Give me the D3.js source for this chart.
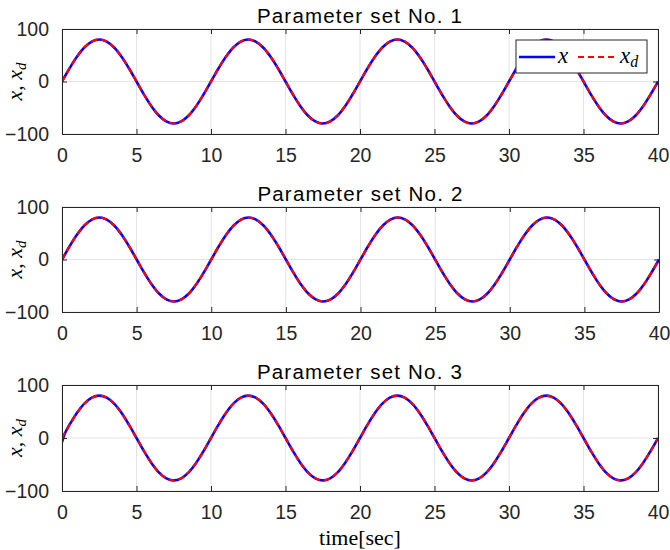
<!DOCTYPE html>
<html>
<head>
<meta charset="utf-8">
<script src="https://cdn.jsdelivr.net/npm/d3@7"></script>
<style>
  html, body { margin: 0; padding: 0; background: #fff; }
  svg { display: block; }
</style>
</head>
<body>
<svg id="chart" width="670" height="550"></svg>
<script>
// ---------------- DATA ----------------
const titles = ["Parameter set No. 1", "Parameter set No. 2", "Parameter set No. 3"];
const xTicks = [0, 5, 10, 15, 20, 25, 30, 35, 40];
const yTicks = [-100, 0, 100];

const timeSec = [0, 0.2, 0.5, 1, 1.5, 2, 2.5, 3, 3.5, 4, 4.5, 5, 5.5, 6, 6.5, 7, 7.5, 8, 8.5, 9, 9.5,
  10, 10.5, 11, 11.5, 12, 12.5, 13, 13.5, 14, 14.5, 15, 15.5, 16, 16.5, 17, 17.5, 18, 18.5, 19, 19.5,
  20, 20.5, 21, 21.5, 22, 22.5, 23, 23.5, 24, 24.5, 25, 25.5, 26, 26.5, 27, 27.5, 28, 28.5, 29, 29.5,
  30, 30.5, 31, 31.5, 32, 32.5, 33, 33.5, 34, 34.5, 35, 35.5, 36, 36.5, 37, 37.5, 38, 38.5, 39, 39.5, 40];

const xDesired = [0, 10.0, 24.7, 47.0, 64.7, 76.1, 80, 76.1, 64.7, 47.0, 24.7, 0, -24.7, -47.0, -64.7, -76.1, -80, -76.1, -64.7, -47.0, -24.7,
  0, 24.7, 47.0, 64.7, 76.1, 80, 76.1, 64.7, 47.0, 24.7, 0, -24.7, -47.0, -64.7, -76.1, -80, -76.1, -64.7, -47.0, -24.7,
  0, 24.7, 47.0, 64.7, 76.1, 80, 76.1, 64.7, 47.0, 24.7, 0, -24.7, -47.0, -64.7, -76.1, -80, -76.1, -64.7, -47.0, -24.7,
  0, 24.7, 47.0, 64.7, 76.1, 80, 76.1, 64.7, 47.0, 24.7, 0, -24.7, -47.0, -64.7, -76.1, -80, -76.1, -64.7, -47.0, -24.7, 0];

const xActual1 = [0, 10.0, 24.7, 47.0, 64.7, 76.1, 80, 76.1, 64.7, 47.0, 24.7, 0, -24.7, -47.0, -64.7, -76.1, -80, -76.1, -64.7, -47.0, -24.7,
  0, 24.7, 47.0, 64.7, 76.1, 80, 76.1, 64.7, 47.0, 24.7, 0, -24.7, -47.0, -64.7, -76.1, -80, -76.1, -64.7, -47.0, -24.7,
  0, 24.7, 47.0, 64.7, 76.1, 80, 76.1, 64.7, 47.0, 24.7, 0, -24.7, -47.0, -64.7, -76.1, -80, -76.1, -64.7, -47.0, -24.7,
  0, 24.7, 47.0, 64.7, 76.1, 80, 76.1, 64.7, 47.0, 24.7, 0, -24.7, -47.0, -64.7, -76.1, -80, -76.1, -64.7, -47.0, -24.7, 0];

const xActual2 = [-1, 9.8, 24.7, 47.0, 64.7, 76.1, 80, 76.1, 64.7, 47.0, 24.7, 0, -24.7, -47.0, -64.7, -76.1, -80, -76.1, -64.7, -47.0, -24.7,
  0, 24.7, 47.0, 64.7, 76.1, 80, 76.1, 64.7, 47.0, 24.7, 0, -24.7, -47.0, -64.7, -76.1, -80, -76.1, -64.7, -47.0, -24.7,
  0, 24.7, 47.0, 64.7, 76.1, 80, 76.1, 64.7, 47.0, 24.7, 0, -24.7, -47.0, -64.7, -76.1, -80, -76.1, -64.7, -47.0, -24.7,
  0, 24.7, 47.0, 64.7, 76.1, 80, 76.1, 64.7, 47.0, 24.7, 0, -24.7, -47.0, -64.7, -76.1, -80, -76.1, -64.7, -47.0, -24.7, 0];

const xActual3 = [-8, 9.0, 24.7, 47.0, 64.7, 76.1, 80, 76.1, 64.7, 47.0, 24.7, 0, -24.7, -47.0, -64.7, -76.1, -80, -76.1, -64.7, -47.0, -24.7,
  0, 24.7, 47.0, 64.7, 76.1, 80, 76.1, 64.7, 47.0, 24.7, 0, -24.7, -47.0, -64.7, -76.1, -80, -76.1, -64.7, -47.0, -24.7,
  0, 24.7, 47.0, 64.7, 76.1, 80, 76.1, 64.7, 47.0, 24.7, 0, -24.7, -47.0, -64.7, -76.1, -80, -76.1, -64.7, -47.0, -24.7,
  0, 24.7, 47.0, 64.7, 76.1, 80, 76.1, 64.7, 47.0, 24.7, 0, -24.7, -47.0, -64.7, -76.1, -80, -76.1, -64.7, -47.0, -24.7, 0];

const actualSeries = [xActual1, xActual2, xActual3];

// ---------------- LAYOUT ----------------
const svg = d3.select("#chart");
const panels = [
  { top: 29, bottom: 134, left: 62, right: 658 },
  { top: 207, bottom: 312, left: 62, right: 659 },
  { top: 385, bottom: 491, left: 62, right: 658 }
];
const axisColor = "#262626";
const gridColor = "#e3e3e3";
const sansFont = "'Liberation Sans', Arial, Helvetica, sans-serif";
const serifFont = "'Liberation Serif', 'DejaVu Serif', 'Times New Roman', serif";

panels.forEach((p, i) => {
  const x = d3.scaleLinear().domain([0, 40]).range([p.left, p.right]);
  const y = d3.scaleLinear().domain([-100, 100]).range([p.bottom, p.top]);
  const g = svg.append("g");
  const clipId = "clip" + i;
  svg.append("clipPath").attr("id", clipId).append("rect")
    .attr("x", p.left).attr("y", p.top - 2).attr("width", p.right - p.left).attr("height", p.bottom - p.top + 4);

  // grid
  g.append("g").selectAll("line").data(xTicks).join("line")
    .attr("x1", d => x(d)).attr("x2", d => x(d)).attr("y1", p.top).attr("y2", p.bottom)
    .attr("stroke", gridColor).attr("stroke-width", 1);
  g.append("g").selectAll("line").data(yTicks).join("line")
    .attr("x1", p.left).attr("x2", p.right).attr("y1", d => y(d)).attr("y2", d => y(d))
    .attr("stroke", gridColor).attr("stroke-width", 1);

  // lines
  const pts = (vals) => timeSec.map((t, k) => [t, vals[k]]);
  const line = d3.line().x(d => x(d[0])).y(d => y(d[1])).curve(d3.curveCatmullRom.alpha(0.5));
  const lg = g.append("g").attr("clip-path", `url(#${clipId})`);
  lg.append("path").attr("d", line(pts(actualSeries[i])))
    .attr("fill", "none").attr("stroke", "#0000ff").attr("stroke-width", 2.6);
  lg.append("path").attr("d", line(pts(xDesired)))
    .attr("fill", "none").attr("stroke", "#ff0000").attr("stroke-width", 2.2)
    .attr("stroke-dasharray", "6,4");

  // axes (inside ticks, box)
  const tickLen = 5;
  const axB = d3.axisBottom(x).tickValues(xTicks).tickSizeInner(-tickLen).tickSizeOuter(0).tickPadding(9 + tickLen);
  const axT = d3.axisTop(x).tickValues(xTicks).tickSizeInner(-tickLen).tickSizeOuter(0).tickFormat("");
  const axL = d3.axisLeft(y).tickValues(yTicks).tickSizeInner(-tickLen).tickSizeOuter(0).tickPadding(8 + tickLen);
  const axR = d3.axisRight(y).tickValues(yTicks).tickSizeInner(-tickLen).tickSizeOuter(0).tickFormat("");

  const style = (sel) => {
    sel.selectAll("path").attr("stroke", axisColor).attr("stroke-width", 1);
    sel.selectAll("line").attr("stroke", axisColor).attr("stroke-width", 1);
    sel.selectAll("text").attr("fill", axisColor).attr("font-family", sansFont).attr("font-size", "19.5px");
  };
  g.append("g").attr("transform", `translate(0,${p.bottom})`).call(axB).call(style);
  g.append("g").attr("transform", `translate(0,${p.top})`).call(axT).call(style);
  g.append("g").attr("transform", `translate(${p.left},0)`).call(axL).call(style);
  g.append("g").attr("transform", `translate(${p.right},0)`).call(axR).call(style);
  g.selectAll(".domain").attr("stroke", axisColor);

  // title
  g.append("text").attr("x", (p.left + p.right) / 2).attr("y", p.top - 6)
    .attr("text-anchor", "middle").attr("font-family", sansFont).attr("font-size", "20.5px")
    .attr("letter-spacing", "1.2px")
    .attr("fill", "#000").text(titles[i]);

  // y label: x, x_d
  const ylab = g.append("text")
    .attr("transform", `translate(22,${(p.top + p.bottom) / 2}) rotate(-90)`)
    .attr("text-anchor", "middle").attr("font-family", serifFont).attr("font-size", "22px")
    .attr("font-style", "italic").attr("fill", "#000");
  ylab.append("tspan").text("x");
  ylab.append("tspan").attr("font-style", "normal").text(", ");
  ylab.append("tspan").text("x");
  ylab.append("tspan").attr("font-size", "15px").attr("dy", 4).text("d");
});

// legend in panel 1
const leg = svg.append("g");
leg.append("rect").attr("x", 516).attr("y", 40).attr("width", 131).attr("height", 33)
  .attr("fill", "#fff").attr("stroke", axisColor).attr("stroke-width", 1);
leg.append("line").attr("x1", 519).attr("x2", 555).attr("y1", 57).attr("y2", 57)
  .attr("stroke", "#0000ff").attr("stroke-width", 2.6);
leg.append("text").attr("x", 558).attr("y", 63).attr("font-family", serifFont)
  .attr("font-style", "italic").attr("font-size", "23px").text("x");
leg.append("line").attr("x1", 578).attr("x2", 617).attr("y1", 57).attr("y2", 57)
  .attr("stroke", "#ff0000").attr("stroke-width", 2.2).attr("stroke-dasharray", "6,4");
const lt = leg.append("text").attr("x", 620).attr("y", 63).attr("font-family", serifFont)
  .attr("font-style", "italic").attr("font-size", "23px");
lt.append("tspan").text("x");
lt.append("tspan").attr("font-size", "16px").attr("dy", 4).text("d");

// x label
svg.append("text").attr("x", 360).attr("y", 545).attr("text-anchor", "middle")
  .attr("font-family", serifFont).attr("font-size", "22px").attr("fill", "#000").text("time[sec]");
</script>
</body>
</html>
